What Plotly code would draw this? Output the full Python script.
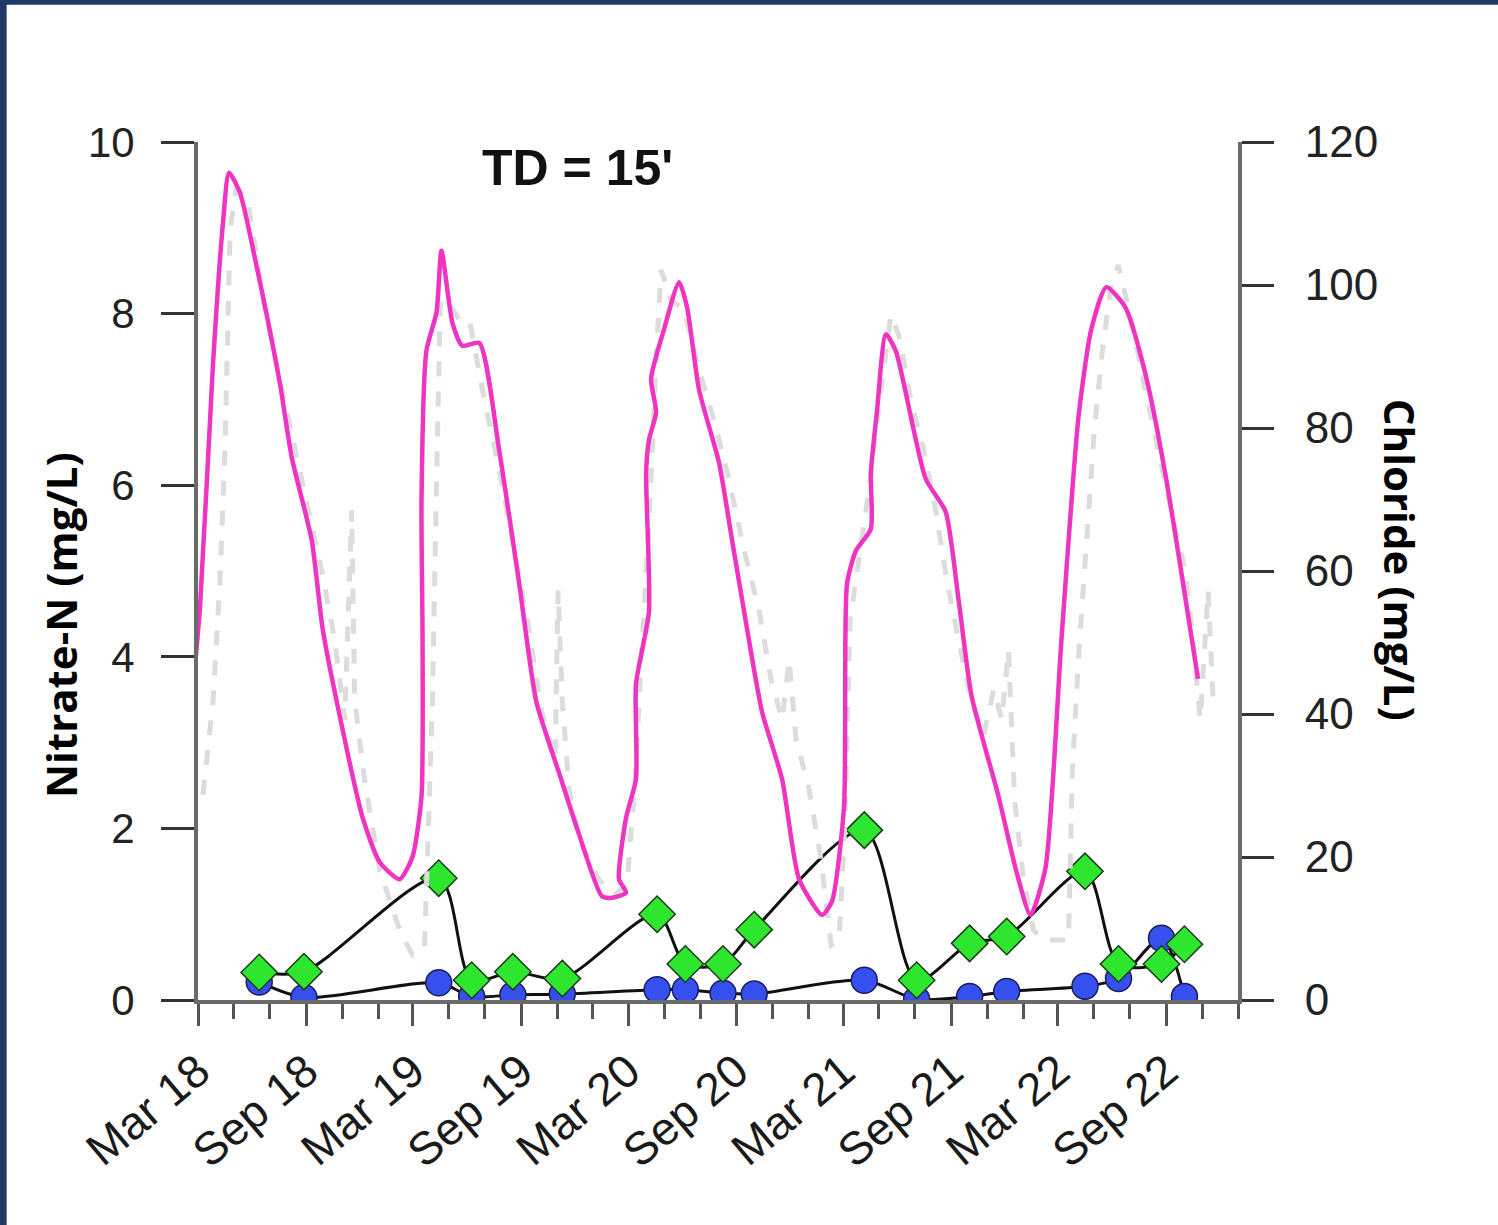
import plotly.graph_objects as go
import pandas as pd

# ---------------- data ----------------
sample_dates = ["2018-06-13", "2018-08-28", "2019-04-14", "2019-06-09", "2019-08-18",
                "2019-11-10", "2020-04-19", "2020-06-06", "2020-08-09", "2020-10-01",
                "2021-04-06", "2021-07-04", "2021-10-02", "2021-12-04", "2022-04-16",
                "2022-06-12", "2022-08-24", "2022-10-02"]
nitrate_green = [0.32, 0.33, 1.42, 0.23, 0.33, 0.25, 1.00, 0.42, 0.42, 0.82,
                 1.98, 0.23, 0.66, 0.74, 1.50, 0.42, 0.42, 0.65]
nitrate_blue = [0.21, 0.03, 0.20, 0.04, 0.06, 0.07, 0.12, 0.12, 0.08, 0.07,
                0.23, 0.01, 0.04, 0.10, 0.16, 0.25, 0.72, 0.04]

# hand-drawn chloride trend (decimal year, mg/L)
pink_year = [2018.120, 2018.171, 2018.232, 2018.278, 2018.306, 2018.357, 2018.436, 2018.543,
             2018.598, 2018.691, 2018.742, 2018.807, 2018.928, 2019.007, 2019.100, 2019.160,
             2019.202, 2019.207, 2019.202, 2019.225, 2019.272, 2019.295, 2019.346, 2019.392,
             2019.471, 2019.564, 2019.657, 2019.736, 2019.843, 2019.935, 2020.042, 2020.089,
             2020.154, 2020.121, 2020.154, 2020.200, 2020.200, 2020.260, 2020.247, 2020.260,
             2020.293, 2020.270, 2020.330, 2020.400, 2020.437, 2020.493, 2020.585, 2020.646,
             2020.711, 2020.785, 2020.878, 2020.957, 2021.064, 2021.110, 2021.166, 2021.180,
             2021.221, 2021.291, 2021.291, 2021.319, 2021.361, 2021.407, 2021.546, 2021.639,
             2021.700, 2021.760, 2021.885, 2021.964, 2022.034, 2022.104, 2022.178, 2022.257,
             2022.317, 2022.387, 2022.475, 2022.568, 2022.661, 2022.814]
pink_chloride = [37.9, 55.0, 89.2, 108.7, 115.7, 112.9, 102.4, 86.2,
                 75.9, 64.3, 51.9, 41.8, 25.5, 19.3, 16.9, 20.0,
                 28.5, 50.3, 69.8, 90.8, 96.2, 104.8, 94.7, 91.5,
                 91.9, 76.8, 58.2, 41.8, 31.7, 23.2, 14.5, 14.3,
                 15.0, 16.9, 25.5, 30.9, 44.2, 54.3, 73.7, 78.3,
                 82.2, 86.9, 93.8, 100.4, 96.9, 85.3, 75.2, 64.3,
                 52.7, 40.3, 30.9, 16.9, 11.9, 13.8, 27.0, 58.2,
                 62.8, 65.9, 73.7, 82.2, 93.1, 90.8, 72.9, 68.3,
                 55.8, 42.5, 28.5, 18.5, 11.9, 18.5, 50.3, 81.4,
                 93.8, 99.7, 96.9, 87.7, 73.7, 44.9]

# faint measured chloride record (decimal year, mg/L)
gray_year = [2018.185, 2018.232, 2018.264, 2018.287, 2018.311, 2018.338, 2018.390, 2018.427,
             2018.473, 2018.543, 2018.636, 2018.742, 2018.798, 2018.845, 2018.877, 2018.891,
             2018.937, 2019.007, 2019.100, 2019.160, 2019.216, 2019.253, 2019.272, 2019.290,
             2019.318, 2019.379, 2019.425, 2019.495, 2019.564, 2019.634, 2019.703, 2019.759,
             2019.824, 2019.838, 2019.857, 2019.889, 2019.936, 2020.028, 2020.098, 2020.158,
             2020.196, 2020.224, 2020.261, 2020.289, 2020.316, 2020.363, 2020.423, 2020.493,
             2020.562, 2020.632, 2020.702, 2020.771, 2020.827, 2020.878, 2020.911, 2020.943,
             2021.004, 2021.059, 2021.106, 2021.143, 2021.171, 2021.194, 2021.236, 2021.282,
             2021.338, 2021.384, 2021.421, 2021.477, 2021.537, 2021.593, 2021.644, 2021.700,
             2021.756, 2021.816, 2021.863, 2021.900, 2021.932, 2021.960, 2022.002, 2022.048,
             2022.095, 2022.211, 2022.229, 2022.257, 2022.294, 2022.331, 2022.369, 2022.406,
             2022.443, 2022.503, 2022.559, 2022.629, 2022.698, 2022.754, 2022.791, 2022.824,
             2022.861, 2022.884]
gray_chloride = [28.7, 42.0, 58.7, 76.9, 107.7, 113.3, 112.4, 104.9,
                 96.5, 86.7, 74.1, 59.4, 50.3, 39.2, 68.5, 42.0,
                 30.8, 18.2, 9.8, 6.3, 7.3, 42.0, 72.7, 97.9,
                 97.9, 95.1, 95.1, 83.9, 74.1, 62.9, 51.7, 40.6,
                 33.6, 57.3, 42.0, 29.4, 22.4, 16.8, 14.7, 16.1,
                 30.8, 47.6, 67.1, 86.7, 102.1, 97.9, 96.5, 88.1,
                 81.1, 72.7, 62.9, 54.5, 44.8, 39.2, 47.6, 36.4,
                 29.4, 19.6, 7.7, 8.4, 25.2, 53.1, 61.5, 71.3,
                 85.3, 95.8, 93.0, 83.9, 76.9, 68.5, 58.7, 50.3,
                 42.0, 37.1, 43.4, 39.2, 49.0, 28.0, 16.8, 9.8,
                 8.4, 8.4, 32.2, 47.6, 64.3, 79.7, 90.9, 99.3,
                 102.8, 95.1, 86.7, 76.9, 67.1, 60.1, 50.3, 39.2,
                 57.3, 42.0]

left_ticks = [0, 2, 4, 6, 8, 10]
right_ticks = [0, 20, 40, 60, 80, 100, 120]


def dec_to_date(y):
    yr = int(y)
    start = pd.Timestamp(year=yr, month=1, day=1)
    ndays = (pd.Timestamp(year=yr + 1, month=1, day=1) - start).days
    return start + pd.Timedelta(days=(y - yr) * ndays)


pink_dates = [dec_to_date(v) for v in pink_year]
gray_dates = [dec_to_date(v) for v in gray_year]

FONT = "Liberation Sans, Arial, sans-serif"
AXIS_GRAY = "#6a6a6a"

fig = go.Figure()

fig.add_trace(go.Scatter(
    x=gray_dates, y=gray_chloride, yaxis="y2", mode="lines",
    line=dict(color="#dcdcdc", width=5, dash="dash"), showlegend=False, hoverinfo="skip"))

fig.add_trace(go.Scatter(
    x=sample_dates, y=nitrate_blue, mode="lines+markers",
    line=dict(color="#111111", width=3, shape="spline", smoothing=0.8),
    marker=dict(symbol="circle", size=26, color="#3550ee",
                line=dict(color="#1a1f5a", width=1.5)),
    showlegend=False))

fig.add_trace(go.Scatter(
    x=sample_dates, y=nitrate_green, mode="lines+markers",
    line=dict(color="#111111", width=3, shape="spline", smoothing=0.8),
    marker=dict(symbol="diamond", size=28, color="#2ee62e",
                line=dict(color="#1d3a1d", width=1.5)),
    showlegend=False))

fig.add_trace(go.Scatter(
    x=pink_dates, y=pink_chloride, yaxis="y2", mode="lines",
    line=dict(color="#ee34c0", width=4.5, shape="spline", smoothing=0.6),
    showlegend=False, hoverinfo="skip"))

fig.update_layout(
    width=1498, height=1225, autosize=False,
    margin=dict(l=198, r=260, t=142, b=225),
    paper_bgcolor="white", plot_bgcolor="white",
    font=dict(family=FONT, color="#222222"),
    xaxis=dict(
        type="date", range=["2018-03-01", "2023-01-01"],
        tick0="2018-03-01", dtick="M6", tickformat="%b %y",
        ticks="outside", ticklen=22, tickwidth=3, tickcolor="#555555",
        tickangle=-40, tickfont=dict(size=46, family=FONT, color="#1a1a1a"),
        showline=True, linecolor=AXIS_GRAY, linewidth=4,
        showgrid=False, zeroline=False,
        minor=dict(dtick="M2", tick0="2018-03-01", ticks="outside", ticklen=15,
                   tickwidth=3, tickcolor="#555555", showgrid=False),
    ),
    yaxis=dict(
        range=[0, 10], tickvals=left_ticks, ticks="outside", ticklen=33,
        tickwidth=3, tickcolor="#333333", tickfont=dict(size=42, family=FONT, color="#222222"),
        showline=True, linecolor=AXIS_GRAY, linewidth=4, showgrid=False, zeroline=False,
        ticklabelstandoff=18,
    ),
    yaxis2=dict(
        range=[0, 120], tickvals=right_ticks, overlaying="y", side="right",
        ticks="outside", ticklen=32, tickwidth=3, tickcolor="#333333",
        tickfont=dict(size=44, family=FONT, color="#222222"),
        showline=True, linecolor=AXIS_GRAY, linewidth=4, showgrid=False, zeroline=False,
        ticklabelstandoff=22,
    ),
    annotations=[
        dict(text="<b>TD = 15'</b>", xref="paper", yref="paper", x=0.365, y=0.970,
             xanchor="center", yanchor="middle", showarrow=False,
             font=dict(size=50, family=FONT, color="#111111")),
        dict(text="<b>Nitrate-N (mg/L)</b>", xref="paper", yref="paper", x=-0.1327, y=0.437,
             xanchor="center", yanchor="middle", textangle=-90, showarrow=False,
             font=dict(size=42, family="Open Sans, sans-serif", color="#000000")),
        dict(text="<b>Chloride (mg/L)</b>", xref="paper", yref="paper", x=1.1558, y=0.513,
             xanchor="center", yanchor="middle", textangle=90, showarrow=False,
             font=dict(size=42, family="Open Sans, sans-serif", color="#000000")),
    ],
    shapes=[
        dict(type="rect", xref="paper", yref="paper", x0=-0.1904, x1=-0.1840,
             y0=-0.2622, y1=1.1655, fillcolor="#1f3864", line=dict(width=0), layer="above"),
        dict(type="rect", xref="paper", yref="paper", x0=-0.1904, x1=1.25,
             y0=1.1600, y1=1.1655, fillcolor="#1f3864", line=dict(width=0), layer="above"),
    ],
)

fig.write_html("out.html", config={"displayModeBar": False},
               post_script="document.body.style.margin='0';")
